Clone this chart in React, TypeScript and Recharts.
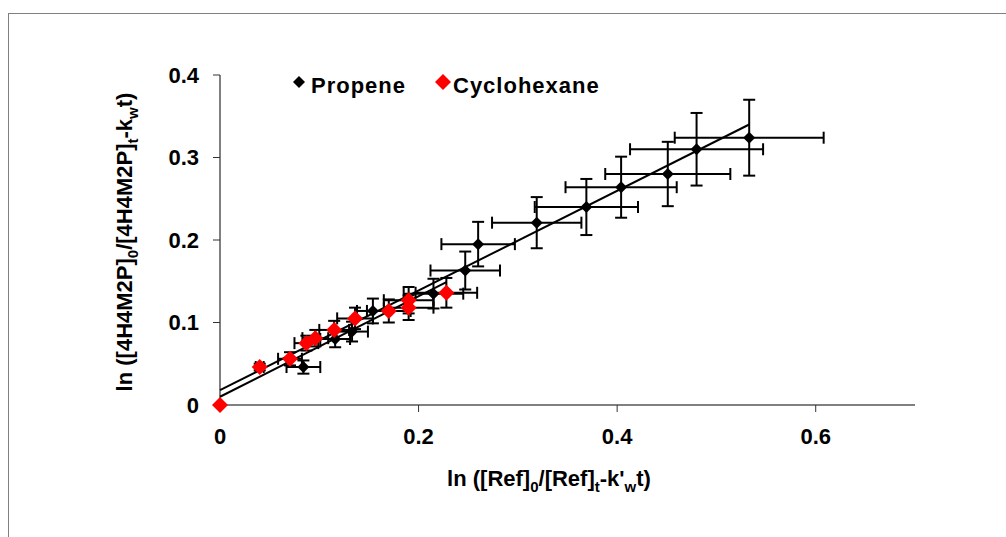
import { ScatterChart, Scatter, XAxis, YAxis, ErrorBar } from 'recharts'

// Propene: ln([Ref]0/[Ref]t - k'w t) vs ln([4H4M2P]0/[4H4M2P]t - kw t)
const propeneX = [0.084, 0.116, 0.133, 0.154, 0.215, 0.247, 0.26, 0.319, 0.369, 0.404, 0.451, 0.48, 0.533]
const propeneY = [0.046, 0.08, 0.089, 0.114, 0.135, 0.163, 0.195, 0.221, 0.24, 0.264, 0.28, 0.31, 0.324]
const propeneErrX = [0.017, 0.015, 0.016, 0.016, 0.03, 0.035, 0.037, 0.045, 0.052, 0.056, 0.063, 0.067, 0.075]
const propeneErrY = [0.008, 0.01, 0.012, 0.015, 0.018, 0.023, 0.027, 0.031, 0.034, 0.037, 0.039, 0.044, 0.046]

const cycloX = [0, 0.04, 0.0705, 0.087, 0.096, 0.115, 0.136, 0.17, 0.19, 0.19, 0.228]
const cycloY = [0, 0.046, 0.056, 0.075, 0.081, 0.091, 0.105, 0.114, 0.127, 0.118, 0.136]
const cycloErrX = [0, 0.004, 0.012, 0.012, 0.013, 0.015, 0.018, 0.022, 0.025, 0.025, 0.031]
const cycloErrY = [0, 0.004, 0.008, 0.009, 0.01, 0.011, 0.013, 0.014, 0.016, 0.015, 0.018]

// linear fits (end points)
const propeneFitX = [0, 0.533]
const propeneFitY = [0.018, 0.34]
const cycloFitX = [0, 0.228]
const cycloFitY = [0.01, 0.149]

const xTicks = [0, 0.2, 0.4, 0.6]
const yTicks = [0, 0.1, 0.2, 0.3, 0.4]

const propene = propeneX.map((x, i) => ({ x, y: propeneY[i], ex: propeneErrX[i], ey: propeneErrY[i] }))
const cyclo = cycloX.map((x, i) => ({ x, y: cycloY[i], ex: cycloErrX[i], ey: cycloErrY[i] }))
const propeneFit = propeneFitX.map((x, i) => ({ x, y: propeneFitY[i] }))
const cycloFit = cycloFitX.map((x, i) => ({ x, y: cycloFitY[i] }))

const FONT = '"Liberation Sans", Arial, sans-serif'
const tickStyle = { fill: '#000', fontSize: 22, fontWeight: 700, fontFamily: FONT }

function diamond(r: number, color: string) {
  return (props: any) => {
    const { cx, cy } = props
    if (cx == null || cy == null) return <g />
    return <polygon points={`${cx},${cy - r} ${cx + r},${cy} ${cx},${cy + r} ${cx - r},${cy}`} fill={color} />
  }
}

const noDot = () => <g />

export default function App() {
  return (
    <div style={{ position: 'fixed', left: 0, top: 0, width: 1006, height: 537, overflow: 'hidden', background: '#fff' }}>
      <div style={{ position: 'absolute', left: 8, top: 13, width: 1200, height: 800, border: '1px solid #808080' }} />
      <div style={{ position: 'absolute', left: 0, top: 0 }}>
        <ScatterChart width={1006} height={537} margin={{ top: 75, right: 91, left: 160, bottom: 102 }}>
          <XAxis
            type="number"
            dataKey="x"
            domain={[0, 0.7]}
            ticks={xTicks}
            height={30}
            tickSize={7}
            tickMargin={16}
            tick={tickStyle}
            axisLine={{ stroke: '#808080', strokeWidth: 2 }}
            tickLine={{ stroke: '#333' }}
          />
          <YAxis
            type="number"
            dataKey="y"
            domain={[0, 0.4]}
            ticks={yTicks}
            width={60}
            tickSize={7}
            tickMargin={14}
            tick={tickStyle}
            axisLine={{ stroke: '#808080', strokeWidth: 2 }}
            tickLine={{ stroke: '#333' }}
          />
          <Scatter data={propeneFit} line={{ stroke: '#000', strokeWidth: 2 }} shape={noDot} isAnimationActive={false} />
          <Scatter data={cycloFit} line={{ stroke: '#000', strokeWidth: 2 }} shape={noDot} isAnimationActive={false} />
          <Scatter data={propene} shape={diamond(6, '#000')} isAnimationActive={false}>
            <ErrorBar dataKey="ex" direction="x" width={6} stroke="#000" strokeWidth={2} />
            <ErrorBar dataKey="ey" direction="y" width={6} stroke="#000" strokeWidth={2} />
          </Scatter>
          <Scatter data={cyclo} shape={diamond(8, '#ff0000')} isAnimationActive={false}>
            <ErrorBar dataKey="ex" direction="x" width={6} stroke="#000" strokeWidth={2} />
            <ErrorBar dataKey="ey" direction="y" width={6} stroke="#000" strokeWidth={2} />
          </Scatter>
        </ScatterChart>
      </div>
      <svg width={1006} height={537} style={{ position: 'absolute', left: 0, top: 0, pointerEvents: 'none' }}>
        <g fontFamily={FONT} fontWeight={700} fontSize={22} fill="#000">
          <polygon points="299,76 305,82 299,88 293,82" fill="#000" />
          <text x={311} y={93} letterSpacing={1}>Propene</text>
          <polygon points="443,74 451,82 443,90 435,82" fill="#ff0000" />
          <text x={453} y={93} letterSpacing={1}>Cyclohexane</text>
          <text x={549} y={486} textAnchor="middle">
            ln ([Ref]<tspan fontSize={15} dy={6}>0</tspan>
            <tspan dy={-6}>/[Ref]</tspan>
            <tspan fontSize={15} dy={6}>t</tspan>
            <tspan dy={-6}>-k'</tspan>
            <tspan fontSize={15} dy={6}>w</tspan>
            <tspan dy={-6}>t)</tspan>
          </text>
          <text x={0} y={0} textAnchor="middle" transform="translate(132,242) rotate(-90)">
            ln ([4H4M2P]<tspan fontSize={15} dy={6}>0</tspan>
            <tspan dy={-6}>/[4H4M2P]</tspan>
            <tspan fontSize={15} dy={6}>t</tspan>
            <tspan dy={-6}>-k</tspan>
            <tspan fontSize={15} dy={6}>w</tspan>
            <tspan dy={-6}>t)</tspan>
          </text>
        </g>
      </svg>
    </div>
  )
}
